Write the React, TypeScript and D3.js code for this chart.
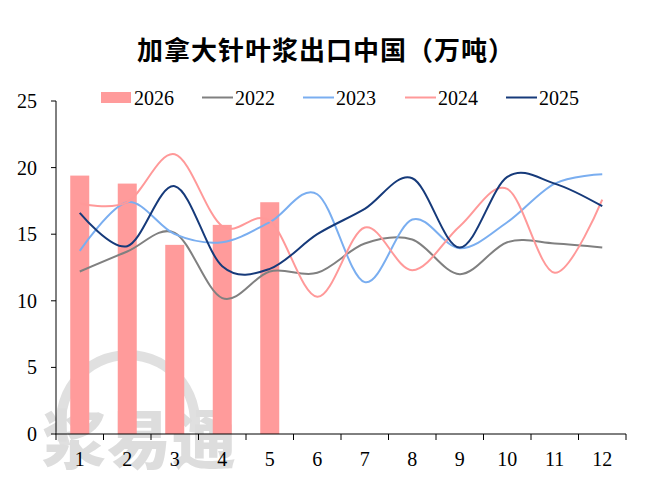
import React from "react";
import * as d3 from "d3";

const months = ["1", "2", "3", "4", "5", "6", "7", "8", "9", "10", "11", "12"];
const yTicks = [0, 5, 10, 15, 20, 25];
const s2026 = [19.4, 18.8, 14.2, 15.7, 17.4];
const s2022 = [12.2, 13.7, 15.1, 10.2, 12.2, 12.1, 14.3, 14.6, 12.0, 14.4, 14.3, 14.0];
const s2023 = [13.75, 17.4, 15.0, 14.4, 15.9, 18.0, 11.4, 16.1, 13.95, 15.9, 18.8, 19.5];
const s2024 = [17.3, 17.4, 21.0, 15.6, 16.0, 10.3, 15.5, 12.3, 15.6, 18.4, 12.1, 17.6];
const s2025 = [16.6, 14.1, 18.6, 12.6, 12.4, 15.0, 16.9, 19.2, 14.0, 19.3, 18.8, 17.1];

const lineSeries = [
  { name: "2022", values: s2022, color: "#808080" },
  { name: "2023", values: s2023, color: "#7AAEF0" },
  { name: "2024", values: s2024, color: "#FF9999" },
  { name: "2025", values: s2025, color: "#163A7A" },
];
const barName = "2026";
const barColor = "#FF9B9B";

const W = 648;
const H = 495;
const left = 56;
const right = 626;
const top = 101;
const bottom = 434;
const serif = "'Liberation Serif', 'Times New Roman', serif";
const cjk = "'Noto Sans CJK SC', 'Noto Sans', sans-serif";

export default function App() {
  const x = d3.scaleBand<string>().domain(months).range([left, right]).padding(0);
  const y = d3.scaleLinear().domain([0, 25]).range([bottom, top]);
  const bw = x.bandwidth();
  const cx = (i: number) => (x(months[i]) as number) + bw / 2;
  const line = d3
    .line<number>()
    .x((_, i) => cx(i))
    .y((v) => y(v))
    .curve(d3.curveCatmullRom.alpha(0));
  const barW = bw * 0.4;

  const legendItems = [
    { name: barName, type: "bar", color: barColor, x: 101 },
    { name: "2022", type: "line", color: lineSeries[0].color, x: 202 },
    { name: "2023", type: "line", color: lineSeries[1].color, x: 303 },
    { name: "2024", type: "line", color: lineSeries[2].color, x: 405 },
    { name: "2025", type: "line", color: lineSeries[3].color, x: 506 },
  ];

  return (
    <svg
      width={W}
      height={H}
      viewBox={`0 0 ${W} ${H}`}
      style={{ position: "absolute", left: 0, top: 0, background: "#fff" }}
    >
      <rect x={0} y={0} width={W} height={H} fill="#fff" />
      {/* watermark */}
      <g opacity={0.75}>
        <path
          d={d3.arc()({ innerRadius: 62, outerRadius: 72, startAngle: -Math.PI * 0.62, endAngle: Math.PI * 0.55 }) as string}
          transform="translate(128,422)"
          fill="#d6d6d6"
        />
        <text
          x={42}
          y={463}
          fontFamily={cjk}
          fontWeight={900}
          fontSize={64}
          fill="#d2d2d2"
          letterSpacing={1}
        >
          浆易通
        </text>
      </g>

      {/* title */}
      <text x={137} y={60} fontFamily={cjk} fontWeight={700} fontSize={26} letterSpacing={1} fill="#000">
        加拿大针叶浆出口中国（万吨）
      </text>

      {/* bars */}
      {s2026.map((v, i) => (
        <rect key={i} x={cx(i) - barW / 2} y={y(v)} width={barW} height={y(0) - y(v)} fill={barColor} />
      ))}

      {/* lines */}
      {lineSeries.map((s) => (
        <path key={s.name} d={line(s.values) as string} fill="none" stroke={s.color} strokeWidth={2} />
      ))}

      {/* axes */}
      <line x1={left} x2={left} y1={top} y2={bottom} stroke="#000" strokeWidth={1} />
      <line x1={left - 0.5} x2={right} y1={bottom} y2={bottom} stroke="#000" strokeWidth={1} />
      {yTicks.map((t) => (
        <g key={t}>
          <line x1={left - 5} x2={left} y1={y(t)} y2={y(t)} stroke="#000" />
          <text x={37} y={y(t) + 7} textAnchor="end" fontFamily={serif} fontSize={20} fill="#000">
            {t}
          </text>
        </g>
      ))}
      {months.map((m, i) => (
        <text key={m} x={cx(i)} y={466} textAnchor="middle" fontFamily={serif} fontSize={20} fill="#000">
          {m}
        </text>
      ))}
      {[...months.map((m) => x(m) as number), right].map((px, i) => (
        <line key={i} x1={px} x2={px} y1={bottom} y2={bottom + 6} stroke="#000" />
      ))}

      {/* legend */}
      {legendItems.map((it) => (
        <g key={it.name}>
          {it.type === "bar" ? (
            <rect x={it.x} y={92} width={30} height={11} fill={it.color} />
          ) : (
            <line x1={it.x} x2={it.x + 31} y1={97.5} y2={97.5} stroke={it.color} strokeWidth={2} />
          )}
          <text x={it.x + 33} y={104.5} fontFamily={serif} fontSize={20} fill="#000">
            {it.name}
          </text>
        </g>
      ))}
    </svg>
  );
}
